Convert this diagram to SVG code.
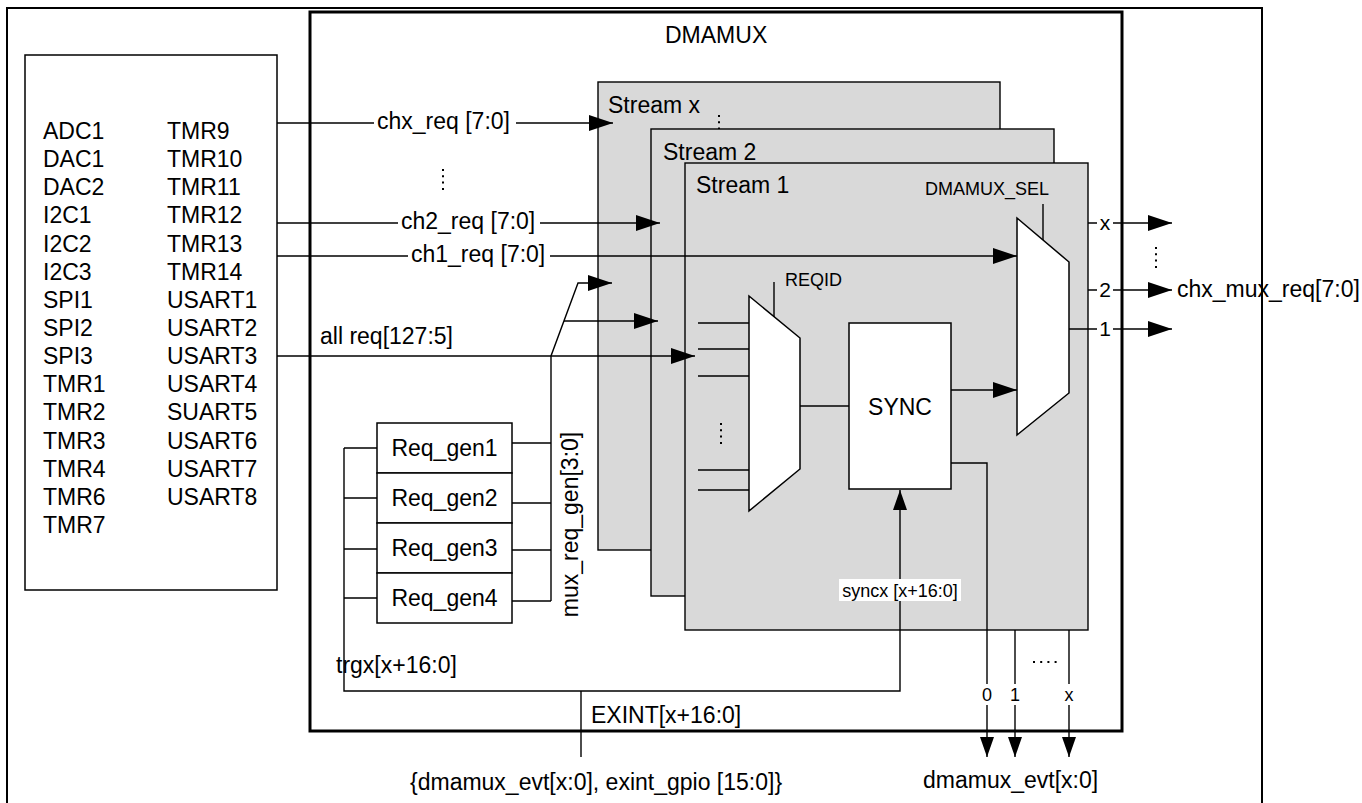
<svg xmlns="http://www.w3.org/2000/svg" width="1362" height="803" viewBox="0 0 1362 803">
<style>
.t{font-family:"Liberation Sans",Arial,sans-serif;font-size:23px;fill:#000}
.s{font-size:18px}
.m{font-size:21px}
.ln{stroke:#000;stroke-width:1.4;fill:none}
.dot{stroke:#000;stroke-width:2;stroke-dasharray:2 4.3;fill:none}
.box{fill:#fff;stroke:#000;stroke-width:1.5}
.str{fill:#d9d9d9;stroke:#000;stroke-width:1.4}
.bg{fill:#fff;stroke:none}
</style>
<defs>
<marker id="ah" markerUnits="userSpaceOnUse" markerWidth="24" markerHeight="16" refX="24" refY="8" orient="auto"><path d="M0,0 L24,8 L0,16 z" fill="#000"/></marker>
<marker id="ahs" markerUnits="userSpaceOnUse" markerWidth="20" markerHeight="14" refX="20" refY="7" orient="auto"><path d="M0,0 L20,7 L0,14 z" fill="#000"/></marker>
</defs>
<rect x="0" y="0" width="1362" height="803" fill="#fff"/>
<g id="frame"><rect x="7" y="8" width="1255" height="810" fill="none" stroke="#000" stroke-width="2"/></g>
<g id="dmamux">
<rect x="310" y="12" width="812" height="719" fill="none" stroke="#000" stroke-width="3"/>
<text class="t" x="665" y="43">DMAMUX</text>
</g>
<g id="sources">
<rect class="box" x="25" y="55" width="252" height="535"/>
<text class="t" x="43" y="139"><tspan x="43">ADC1</tspan><tspan x="43" dy="28.15">DAC1</tspan><tspan x="43" dy="28.15">DAC2</tspan><tspan x="43" dy="28.15">I2C1</tspan><tspan x="43" dy="28.15">I2C2</tspan><tspan x="43" dy="28.15">I2C3</tspan><tspan x="43" dy="28.15">SPI1</tspan><tspan x="43" dy="28.15">SPI2</tspan><tspan x="43" dy="28.15">SPI3</tspan><tspan x="43" dy="28.15">TMR1</tspan><tspan x="43" dy="28.15">TMR2</tspan><tspan x="43" dy="28.15">TMR3</tspan><tspan x="43" dy="28.15">TMR4</tspan><tspan x="43" dy="28.15">TMR6</tspan><tspan x="43" dy="28.15">TMR7</tspan></text>
<text class="t" x="167" y="139"><tspan x="167">TMR9</tspan><tspan x="167" dy="28.15">TMR10</tspan><tspan x="167" dy="28.15">TMR11</tspan><tspan x="167" dy="28.15">TMR12</tspan><tspan x="167" dy="28.15">TMR13</tspan><tspan x="167" dy="28.15">TMR14</tspan><tspan x="167" dy="28.15">USART1</tspan><tspan x="167" dy="28.15">USART2</tspan><tspan x="167" dy="28.15">USART3</tspan><tspan x="167" dy="28.15">USART4</tspan><tspan x="167" dy="28.15">SUART5</tspan><tspan x="167" dy="28.15">USART6</tspan><tspan x="167" dy="28.15">USART7</tspan><tspan x="167" dy="28.15">USART8</tspan></text>
</g>
<g id="reqgen">
<rect class="box" x="377" y="423" width="135" height="50"/>
<rect class="box" x="377" y="473" width="135" height="50"/>
<rect class="box" x="377" y="523" width="135" height="50"/>
<rect class="box" x="377" y="573" width="135" height="50"/>
<text class="t" x="444.5" y="456" text-anchor="middle">Req_gen1</text>
<text class="t" x="444.5" y="506" text-anchor="middle">Req_gen2</text>
<text class="t" x="444.5" y="556" text-anchor="middle">Req_gen3</text>
<text class="t" x="444.5" y="606" text-anchor="middle">Req_gen4</text>
</g>
<g id="streamx">
<rect class="str" x="598" y="82" width="402" height="468"/>
<text class="t" x="608" y="113">Stream x</text>
<line class="dot" x1="719" y1="115" x2="719" y2="137"/>
</g>
<g id="stream2">
<rect class="str" x="651" y="129" width="403" height="467"/>
<text class="t" x="663" y="160">Stream 2</text>
</g>
<g id="stream1">
<rect class="str" x="685" y="163" width="403" height="467"/>
<text class="t" x="696" y="193">Stream 1</text>
</g>
<g id="reqmux">
<path d="M749,296 L800,338 L800,469 L749,511 Z" fill="#fff" stroke="#000" stroke-width="1.5"/>
<text class="t s" x="785" y="286">REQID</text>
<line class="dot" x1="721" y1="423" x2="721" y2="445"/>
</g>
<g id="sync">
<rect class="box" x="849" y="323" width="102" height="166"/>
<text class="t" x="900" y="415" text-anchor="middle">SYNC</text>
</g>
<g id="selmux">
<path d="M1017,218 L1069,262 L1069,393 L1017,435 Z" fill="#fff" stroke="#000" stroke-width="1.5"/>
<text class="t s" x="925" y="195">DMAMUX_SEL</text>
</g>
<g id="connectors">
<line class="ln" x1="277" y1="123" x2="613" y2="123" marker-end="url(#ah)"/>
<rect class="bg" x="374" y="110" width="142" height="26"/>
<text class="t" x="377" y="129">chx_req [7:0]</text>
<line class="dot" x1="443" y1="169" x2="443" y2="191"/>
<line class="ln" x1="277" y1="223" x2="660" y2="223" marker-end="url(#ah)"/>
<rect class="bg" x="398" y="210" width="142" height="26"/>
<text class="t" x="401" y="229">ch2_req [7:0]</text>
<line class="ln" x1="277" y1="256" x2="1017" y2="256" marker-end="url(#ah)"/>
<rect class="bg" x="408" y="243" width="142" height="26"/>
<text class="t" x="411" y="262">ch1_req [7:0]</text>
<line class="ln" x1="277" y1="356" x2="695" y2="356" marker-end="url(#ah)"/>
<text class="t" x="320" y="344">all req[127:5]</text>
<path class="ln" d="M551,601 L551,356 L578,283 L612,283" marker-end="url(#ah)"/>
<line class="ln" x1="564" y1="321" x2="658" y2="321" marker-end="url(#ah)"/>
<path class="ln" d="M512,443 H551 M512,503 H551 M512,550 H551 M512,601 H551"/>
<text class="t" transform="translate(578,524.5) rotate(-90)" text-anchor="middle">mux_req_gen[3:0]</text>
<path class="ln" d="M344,448 H377 M344,498 H377 M344,549 H377 M344,598 H377"/>
<path class="ln" d="M344,448 V691 H900 V490" marker-end="url(#ahs)"/>
<text class="t" x="336" y="673">trgx[x+16:0]</text>
<rect class="bg" x="839" y="579" width="122" height="22"/>
<text class="t s" x="900" y="597" text-anchor="middle">syncx [x+16:0]</text>
<line class="ln" x1="581" y1="691" x2="581" y2="757"/>
<text class="t" x="591" y="723">EXINT[x+16:0]</text>
<text class="t" x="410" y="790">{dmamux_evt[x:0], exint_gpio [15:0]}</text>
<path class="ln" d="M698,323 H749 M698,349 H749 M698,376 H749 M698,470 H749 M698,490 H749"/>
<line class="ln" x1="774" y1="282" x2="774" y2="317"/>
<line class="ln" x1="800" y1="406" x2="849" y2="406"/>
<line class="ln" x1="951" y1="390" x2="1017" y2="390" marker-end="url(#ah)"/>
<line class="ln" x1="1043" y1="204" x2="1043" y2="240"/>
<path class="ln" d="M951,463 H987 V757" marker-end="url(#ahs)"/>
<line class="ln" x1="1015" y1="630" x2="1015" y2="757" marker-end="url(#ahs)"/>
<line class="ln" x1="1069" y1="630" x2="1069" y2="757" marker-end="url(#ahs)"/>
<rect class="bg" x="980" y="684" width="95" height="21"/>
<text class="t s" x="987" y="701" text-anchor="middle">0</text>
<text class="t s" x="1015" y="701" text-anchor="middle">1</text>
<text class="t s" x="1069" y="701" text-anchor="middle">x</text>
<line x1="1033" y1="662" x2="1057" y2="662" stroke="#000" stroke-width="2" stroke-dasharray="2 5.2"/>
<text class="t" x="923" y="788">dmamux_evt[x:0]</text>
<line class="ln" x1="1088" y1="223" x2="1172" y2="223" marker-end="url(#ah)"/>
<line class="ln" x1="1088" y1="290" x2="1172" y2="290" marker-end="url(#ah)"/>
<line class="ln" x1="1069" y1="329" x2="1172" y2="329" marker-end="url(#ah)"/>
<rect class="bg" x="1097" y="212" width="16" height="22"/>
<rect class="bg" x="1097" y="279" width="16" height="22"/>
<rect class="bg" x="1097" y="318" width="16" height="22"/>
<text class="t m" x="1105" y="230" text-anchor="middle">x</text>
<text class="t m" x="1105" y="297" text-anchor="middle">2</text>
<text class="t m" x="1105" y="336" text-anchor="middle">1</text>
<line class="dot" x1="1156" y1="247" x2="1156" y2="269"/>
<text class="t" x="1177" y="297">chx_mux_req[7:0]</text>
</g>
</svg>
